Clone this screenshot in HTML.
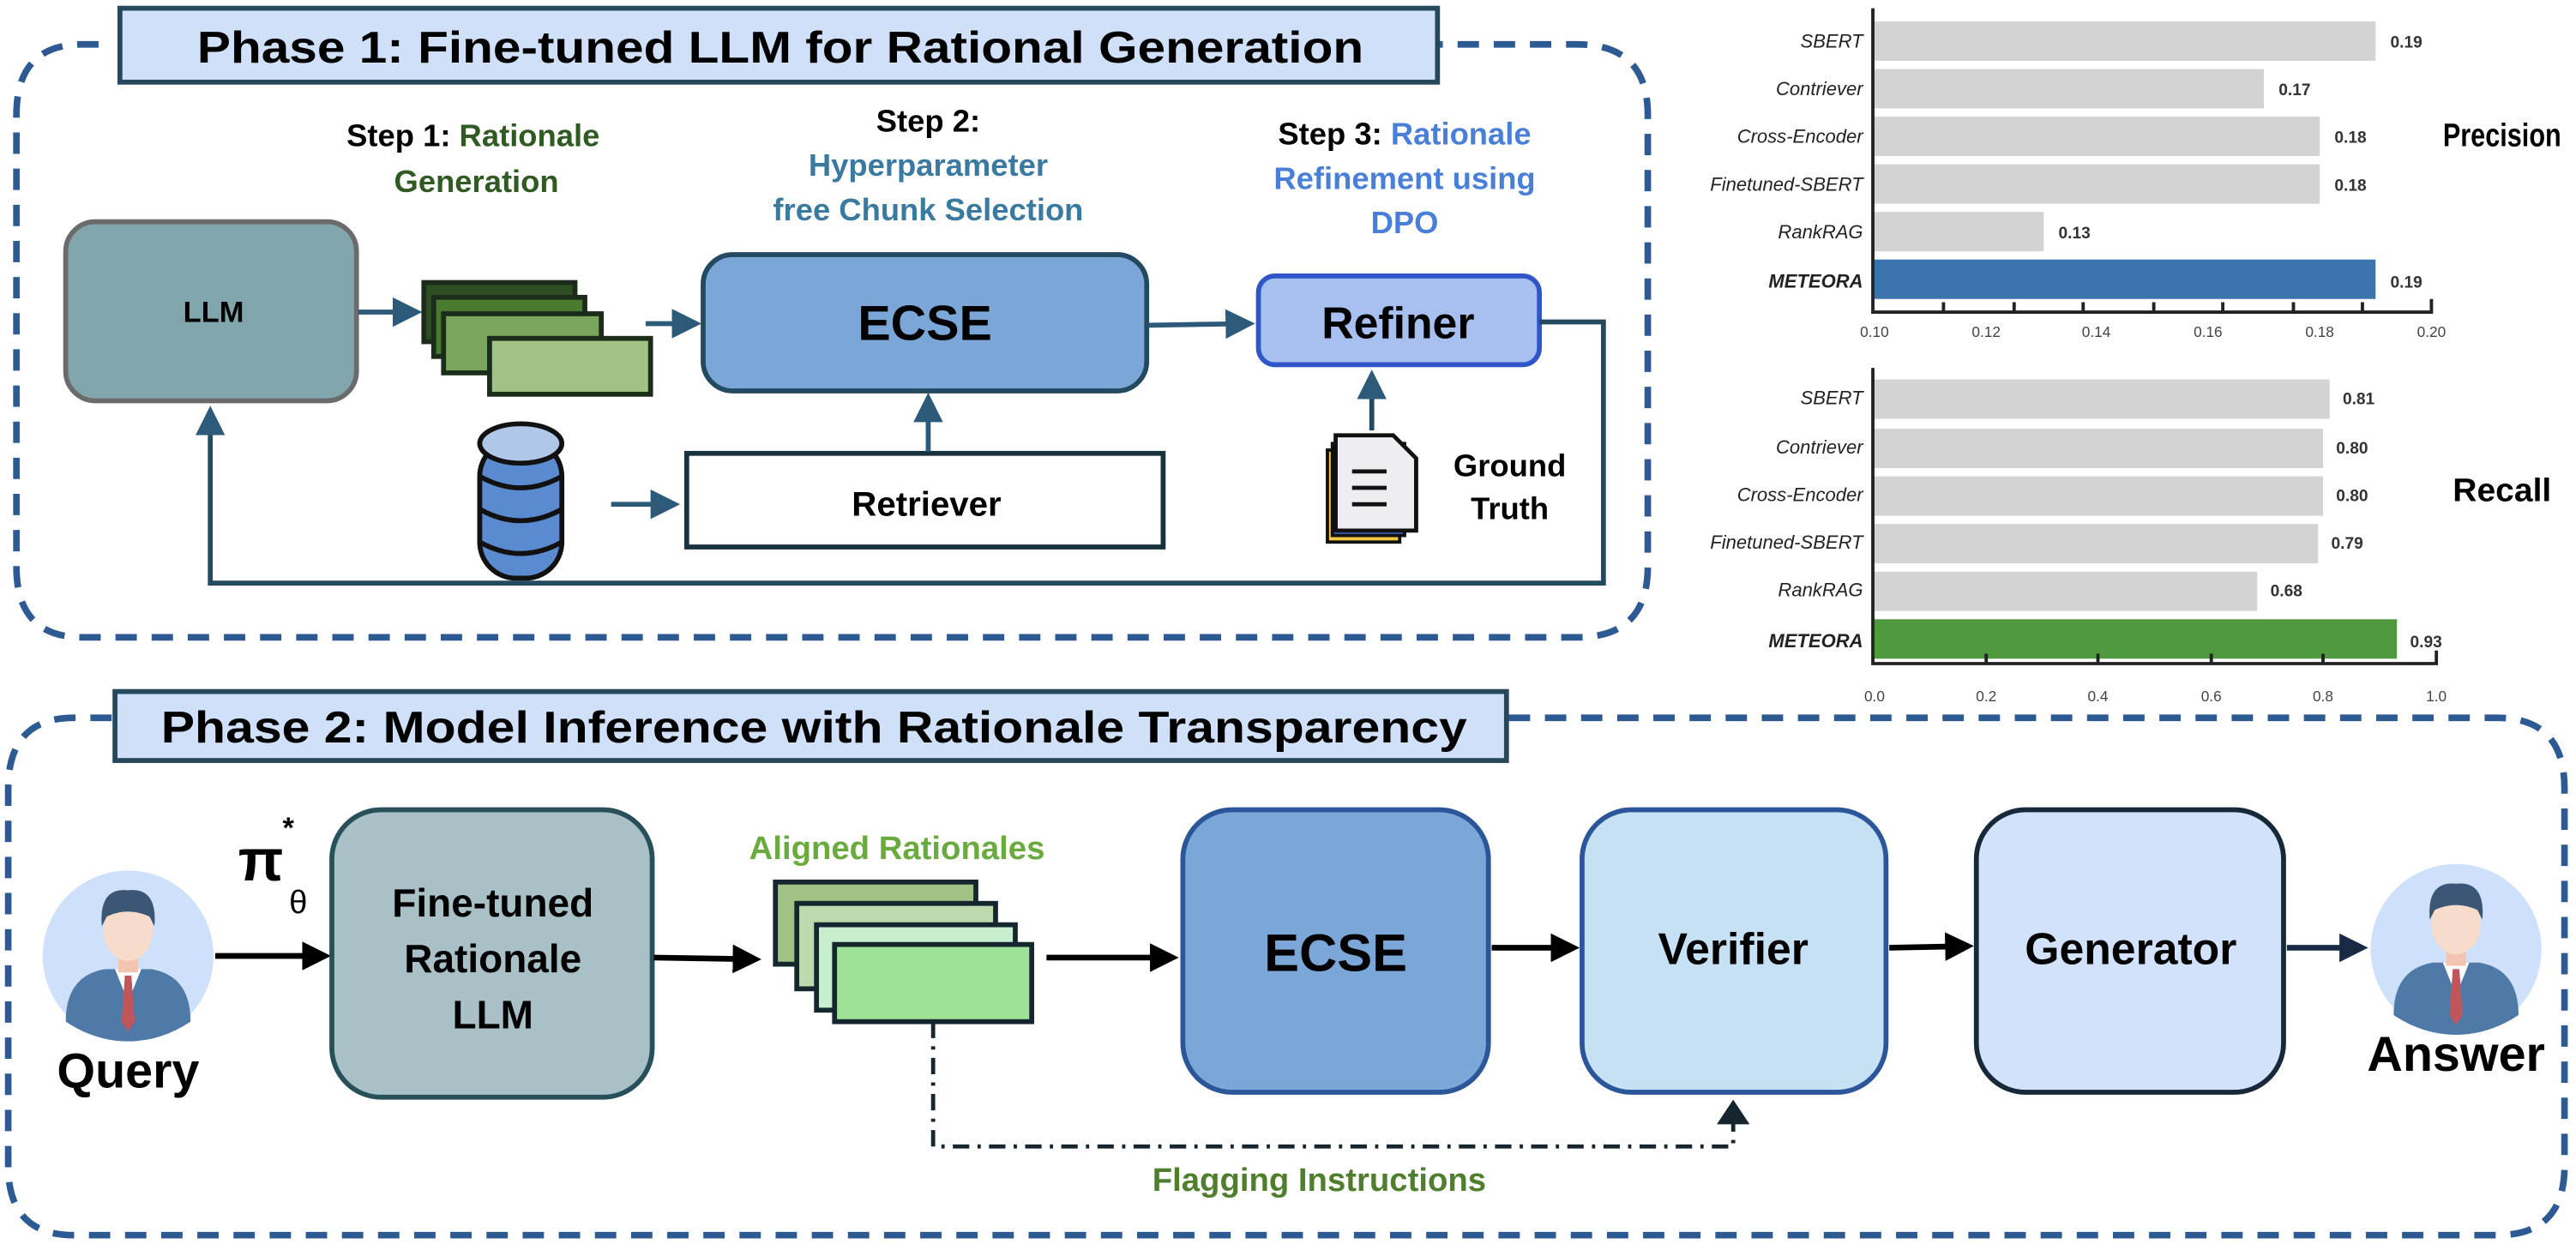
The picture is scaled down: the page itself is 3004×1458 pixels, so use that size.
<!DOCTYPE html>
<html><head><meta charset="utf-8"><style>
html,body{margin:0;padding:0;background:#fff;}
svg{display:block;font-family:"Liberation Sans",sans-serif;}
</style></head><body>
<svg width="3004" height="1458" viewBox="0 0 1568 761" xmlns="http://www.w3.org/2000/svg">
<defs>
<marker id="ab" markerWidth="6" markerHeight="6" refX="5" refY="3" orient="auto" markerUnits="strokeWidth"><path d="M0,0 L6,3 L0,6 z" fill="#2c5a78"/></marker>
<marker id="ak" markerWidth="5" markerHeight="5" refX="4" refY="2.5" orient="auto" markerUnits="strokeWidth"><path d="M0,0 L5,2.5 L0,5 z" fill="#000"/></marker>
<marker id="an" markerWidth="5" markerHeight="5" refX="4" refY="2.5" orient="auto" markerUnits="strokeWidth"><path d="M0,0 L5,2.5 L0,5 z" fill="#1a2a44"/></marker>
<marker id="ad" markerWidth="6" markerHeight="8" refX="5" refY="4" orient="auto" markerUnits="strokeWidth"><path d="M0,0 L6,4 L0,8 z" fill="#15262e"/></marker>
<g id="person">
<ellipse cx="0" cy="0" rx="52" ry="52" fill="#cfe0fb"/>
<path d="M-38,40 Q-38,12 -14,8 L14,8 Q38,12 38,40 Q20,52 0,52 Q-20,52 -38,40z" fill="#4f7aa8"/>
<path d="M-8,8 L0,28 L8,8z" fill="#fff"/>
<path d="M-2,12 L2,12 L4,40 L0,46 L-4,40z" fill="#c0555c"/>
<rect x="-6" y="0" width="12" height="10" fill="#f3c5b0"/>
<ellipse cx="0" cy="-16" rx="15" ry="19" fill="#f8dccb"/>
<path d="M-16,-18 Q-18,-42 0,-40 Q18,-42 16,-18 L13,-24 Q0,-30 -13,-24z" fill="#3c5676"/>
</g>
</defs>

<!-- Phase 1 dashed border -->
<path d="M60,27 L50,27 Q10,27 10,70 L10,345 Q10,388 50,388 L960,388 Q1003,388 1003,345 L1003,70 Q1003,27 960,27 L875,27" fill="none" stroke="#2e5a93" stroke-width="4" stroke-dasharray="13,9"/>
<rect x="73" y="5" width="802" height="45" fill="#cfe0f8" stroke="#25485d" stroke-width="3"/>
<text x="120" y="38" font-size="27" font-weight="bold" textLength="710" lengthAdjust="spacingAndGlyphs">Phase 1: Fine-tuned LLM for Rational Generation</text>

<!-- step labels -->
<text x="288" y="89" font-size="19" font-weight="bold" text-anchor="middle">Step 1: <tspan fill="#2f5a22">Rationale</tspan></text>
<text x="290" y="117" font-size="19" font-weight="bold" text-anchor="middle" fill="#2f5a22">Generation</text>
<text x="565" y="80" font-size="19" font-weight="bold" text-anchor="middle">Step 2:</text>
<text x="565" y="107" font-size="19" font-weight="bold" text-anchor="middle" fill="#3b7aa0">Hyperparameter</text>
<text x="565" y="134" font-size="19" font-weight="bold" text-anchor="middle" fill="#3b7aa0">free Chunk Selection</text>
<text x="855" y="88" font-size="19" font-weight="bold" text-anchor="middle">Step 3: <tspan fill="#4a7fd8">Rationale</tspan></text>
<text x="855" y="115" font-size="19" font-weight="bold" text-anchor="middle" fill="#4a7fd8">Refinement using</text>
<text x="855" y="142" font-size="19" font-weight="bold" text-anchor="middle" fill="#4a7fd8">DPO</text>

<!-- LLM -->
<rect x="40" y="135" width="177" height="109" rx="18" fill="#80a6ac" stroke="#6b6b6b" stroke-width="3"/>
<text x="130" y="196" font-size="18" font-weight="bold" text-anchor="middle">LLM</text>
<line x1="218" y1="190" x2="254" y2="190" stroke="#2c5a78" stroke-width="3" marker-end="url(#ab)"/>
<rect x="258" y="172" width="92" height="36" fill="#2d4f22" stroke="#1b2d1a" stroke-width="3"/>
<rect x="264" y="181" width="92" height="36" fill="#4a7a2e" stroke="#1b2d1a" stroke-width="3"/>
<rect x="270" y="191" width="96" height="36" fill="#7aa55c" stroke="#1b2d1a" stroke-width="3"/>
<rect x="298" y="206" width="98" height="34" fill="#a0c385" stroke="#1b2d1a" stroke-width="3"/>
<line x1="393" y1="197" x2="424" y2="197" stroke="#2c5a78" stroke-width="3" marker-end="url(#ab)"/>

<!-- ECSE -->
<rect x="428" y="155" width="270" height="83" rx="18" fill="#7ba7d8" stroke="#234a60" stroke-width="3"/>
<text x="563" y="207" font-size="30" font-weight="bold" text-anchor="middle">ECSE</text>
<line x1="699" y1="198" x2="761" y2="197" stroke="#2c5a78" stroke-width="3" marker-end="url(#ab)"/>

<!-- Refiner -->
<rect x="766" y="168" width="171" height="54" rx="10" fill="#a7c0ef" stroke="#2f55c9" stroke-width="3"/>
<text x="851" y="206" font-size="27" font-weight="bold" text-anchor="middle">Refiner</text>
<path d="M937,196 L976,196 L976,355 L128,355 L128,250" fill="none" stroke="#234a60" stroke-width="3" marker-end="url(#ab)"/>

<!-- Retriever -->
<rect x="418" y="276" width="290" height="57" fill="#fff" stroke="#18323f" stroke-width="3"/>
<text x="564" y="314" font-size="21" font-weight="bold" text-anchor="middle">Retriever</text>
<line x1="565" y1="275" x2="565" y2="242" stroke="#2c5a78" stroke-width="3" marker-end="url(#ab)"/>
<line x1="372" y1="307" x2="411" y2="307" stroke="#2c5a78" stroke-width="3" marker-end="url(#ab)"/>

<!-- database -->
<g stroke="#111" stroke-width="3">
<rect x="292" y="268" width="50" height="84" rx="22" fill="#5a8bd0"/>
<ellipse cx="317" cy="270" rx="25" ry="12" fill="#b0c7ea"/>
<path d="M292,290 Q317,304 342,290 M292,310 Q317,324 342,310 M292,330 Q317,344 342,330" fill="none"/>
</g>

<!-- document -->
<rect x="808" y="274" width="44" height="56" fill="#f5c842" stroke="#111" stroke-width="2"/>
<rect x="811" y="270" width="44" height="56" fill="#3a6fd0" stroke="#111" stroke-width="2"/>
<path d="M813,265 L848,265 L862,279 L862,323 L813,323z" fill="#eeeef2" stroke="#111" stroke-width="2.5"/>
<path d="M823,287 L844,287 M823,297 L844,297 M823,307 L844,307" stroke="#111" stroke-width="2.5"/>
<line x1="835" y1="262" x2="835" y2="228" stroke="#234a60" stroke-width="3" marker-end="url(#ab)"/>
<text x="919" y="290" font-size="19" font-weight="bold" text-anchor="middle">Ground</text>
<text x="919" y="316" font-size="19" font-weight="bold" text-anchor="middle">Truth</text>

<!-- Precision chart -->
<g font-size="11.5" font-style="italic" text-anchor="end" fill="#222">
<text x="1134" y="29">SBERT</text><text x="1134" y="58">Contriever</text><text x="1134" y="87">Cross-Encoder</text><text x="1134" y="116">Finetuned-SBERT</text><text x="1134" y="145">RankRAG</text><text x="1134" y="175" font-weight="bold">METEORA</text>
</g>
<g fill="#d3d3d3">
<rect x="1141" y="13" width="305" height="24"/><rect x="1141" y="42" width="237" height="24"/><rect x="1141" y="71" width="271" height="24"/><rect x="1141" y="100" width="271" height="24"/><rect x="1141" y="129" width="103" height="24"/>
</g>
<rect x="1141" y="158" width="305" height="24" fill="#3b73ad"/>
<g font-size="10" font-weight="bold" fill="#333">
<text x="1455" y="29">0.19</text><text x="1387" y="58">0.17</text><text x="1421" y="87">0.18</text><text x="1421" y="116">0.18</text><text x="1253" y="145">0.13</text><text x="1455" y="175">0.19</text>
</g>
<path d="M1140,5 L1140,190 L1480,190 L1480,182 M1183,190 L1183,184 M1226,190 L1226,184 M1268,190 L1268,184 M1311,190 L1311,184 M1353,190 L1353,184 M1396,190 L1396,184 M1438,190 L1438,184" fill="none" stroke="#222" stroke-width="2"/>
<g font-size="9" fill="#444" text-anchor="middle">
<text x="1141" y="205">0.10</text><text x="1209" y="205">0.12</text><text x="1276" y="205">0.14</text><text x="1344" y="205">0.16</text><text x="1412" y="205">0.18</text><text x="1480" y="205">0.20</text>
</g>
<text x="1487" y="89" font-size="20" font-weight="bold" textLength="72" lengthAdjust="spacingAndGlyphs">Precision</text>

<!-- Recall chart -->
<g font-size="11.5" font-style="italic" text-anchor="end" fill="#222">
<text x="1134" y="246">SBERT</text><text x="1134" y="276">Contriever</text><text x="1134" y="305">Cross-Encoder</text><text x="1134" y="334">Finetuned-SBERT</text><text x="1134" y="363">RankRAG</text><text x="1134" y="394" font-weight="bold">METEORA</text>
</g>
<g fill="#d3d3d3">
<rect x="1141" y="231" width="277" height="24"/><rect x="1141" y="261" width="273" height="24"/><rect x="1141" y="290" width="273" height="24"/><rect x="1141" y="319" width="270" height="24"/><rect x="1141" y="348" width="233" height="24"/>
</g>
<rect x="1141" y="377" width="318" height="24" fill="#4f9a3e"/>
<g font-size="10" font-weight="bold" fill="#333">
<text x="1426" y="246">0.81</text><text x="1422" y="276">0.80</text><text x="1422" y="305">0.80</text><text x="1419" y="334">0.79</text><text x="1382" y="363">0.68</text><text x="1467" y="394">0.93</text>
</g>
<path d="M1140,224 L1140,404 L1483,404 L1483,396 M1209,404 L1209,398 M1277,404 L1277,398 M1346,404 L1346,398 M1414,404 L1414,398" fill="none" stroke="#222" stroke-width="2"/>
<g font-size="9" fill="#444" text-anchor="middle">
<text x="1141" y="427">0.0</text><text x="1209" y="427">0.2</text><text x="1277" y="427">0.4</text><text x="1346" y="427">0.6</text><text x="1414" y="427">0.8</text><text x="1483" y="427">1.0</text>
</g>
<text x="1493" y="305" font-size="20" font-weight="bold" textLength="60" lengthAdjust="spacingAndGlyphs">Recall</text>

<!-- Phase 2 border -->
<path d="M68,437 L45,437 Q5,437 5,480 L5,710 Q5,752 45,752 L1520,752 Q1561,752 1561,710 L1561,480 Q1561,437 1520,437 L917,437" fill="none" stroke="#2e5a93" stroke-width="4" stroke-dasharray="13,9"/>
<rect x="70" y="421" width="847" height="42" fill="#cfe0f8" stroke="#25485d" stroke-width="3"/>
<text x="98" y="452" font-size="27" font-weight="bold" textLength="795" lengthAdjust="spacingAndGlyphs">Phase 2: Model Inference with Rationale Transparency</text>

<text x="145" y="536" font-size="36" font-weight="bold">π</text>
<text x="172" y="510" font-size="18" font-weight="bold">*</text>
<text x="176" y="556" font-size="20">θ</text>

<use href="#person" transform="translate(78,582)"/>
<text x="78" y="662" font-size="30" font-weight="bold" text-anchor="middle">Query</text>
<line x1="131" y1="582" x2="198" y2="582" stroke="#000" stroke-width="3.5" marker-end="url(#ak)"/>

<rect x="202" y="493" width="195" height="175" rx="30" fill="#a9c1c6" stroke="#27505a" stroke-width="3"/>
<text x="300" y="558" font-size="24" font-weight="bold" text-anchor="middle">Fine-tuned</text>
<text x="300" y="592" font-size="24" font-weight="bold" text-anchor="middle">Rationale</text>
<text x="300" y="626" font-size="24" font-weight="bold" text-anchor="middle">LLM</text>

<text x="546" y="523" font-size="20" font-weight="bold" text-anchor="middle" fill="#6aab3f">Aligned Rationales</text>
<line x1="398" y1="583" x2="460" y2="584" stroke="#000" stroke-width="3.5" marker-end="url(#ak)"/>
<g stroke="#15262e" stroke-width="3">
<rect x="472" y="537" width="122" height="50" fill="#9fc385"/>
<rect x="485" y="550" width="121" height="52" fill="#bddaaf"/>
<rect x="497" y="563" width="121" height="52" fill="#c8eed0"/>
<rect x="508" y="575" width="120" height="47" fill="#9ee298"/>
</g>
<line x1="637" y1="583" x2="714" y2="583" stroke="#000" stroke-width="3.5" marker-end="url(#ak)"/>

<rect x="720" y="493" width="186" height="172" rx="30" fill="#7ba7d8" stroke="#2b569a" stroke-width="3"/>
<text x="813" y="591" font-size="32" font-weight="bold" text-anchor="middle">ECSE</text>
<line x1="908" y1="577" x2="958" y2="577" stroke="#000" stroke-width="3.5" marker-end="url(#ak)"/>

<rect x="963" y="493" width="185" height="172" rx="30" fill="#c6e1f4" stroke="#2b569a" stroke-width="3"/>
<text x="1055" y="587" font-size="27" font-weight="bold" text-anchor="middle">Verifier</text>
<line x1="1150" y1="577" x2="1198" y2="576" stroke="#000" stroke-width="3.5" marker-end="url(#ak)"/>

<rect x="1203" y="493" width="187" height="172" rx="30" fill="#d2e2fb" stroke="#172838" stroke-width="3"/>
<text x="1297" y="587" font-size="27" font-weight="bold" text-anchor="middle">Generator</text>
<line x1="1392" y1="577" x2="1438" y2="577" stroke="#1a2a44" stroke-width="3.5" marker-end="url(#an)"/>

<use href="#person" transform="translate(1495,578)"/>
<text x="1495" y="652" font-size="30" font-weight="bold" text-anchor="middle">Answer</text>

<path d="M568,622 L568,698 L1055,698 L1055,672" fill="none" stroke="#15262e" stroke-width="2.5" stroke-dasharray="10,5,2,5" marker-end="url(#ad)"/>
<text x="803" y="725" font-size="20" font-weight="bold" text-anchor="middle" fill="#4f7f2c">Flagging Instructions</text>
</svg>
</body></html>
